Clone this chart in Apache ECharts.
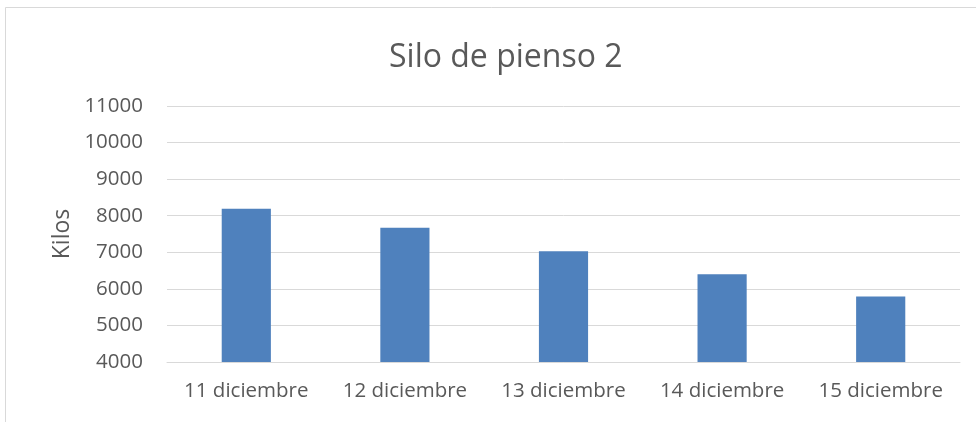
<!DOCTYPE html>
<html><head><meta charset="utf-8">
<script src="https://cdn.jsdelivr.net/npm/echarts@6/dist/echarts.min.js"></script>
<style>html,body{margin:0;padding:0;background:#fff}#c{width:976px;height:422px}</style>
</head><body><div id="c"></div>
<script>
const categories = ['11 diciembre','12 diciembre','13 diciembre','14 diciembre','15 diciembre'];
const kilos = [8190, 7670, 7030, 6400, 5790];
const yTicks = [4000, 11000, 1000];
const chart = echarts.init(document.getElementById('c'), null, {renderer:'canvas'});
const font = 'Open Sans';
chart.setOption({
  animation:false,
  backgroundColor:'#fff',
  title:{text:'Silo de pienso 2', left:384, top:37, textStyle:{fontFamily:font, fontSize:32, fontWeight:'normal', color:'#595959'}},
  graphic:[{type:'rect', shape:{x:5.5,y:7.5,width:1000,height:500}, style:{fill:'none', stroke:'#d9d9d9', lineWidth:1}, silent:true}],
  grid:{left:167, right:16, top:106, bottom:60},
  xAxis:{type:'category', data:categories,
    axisLine:{lineStyle:{color:'#d9d9d9', width:1}}, axisTick:{show:false},
    axisLabel:{interval:0, hideOverlap:false, fontFamily:font, fontSize:20.5, color:'#595959', margin:19}},
  yAxis:{type:'value', min:yTicks[0], max:yTicks[1], interval:yTicks[2],
    name:'Kilos', nameLocation:'middle', nameGap:93, nameRotate:90,
    nameTextStyle:{fontFamily:font, fontSize:23, color:'#595959'},
    axisLine:{show:false}, axisTick:{show:false},
    axisLabel:{fontFamily:font, fontSize:20.5, color:'#595959', margin:24, formatter:v=>String(v)},
    splitLine:{lineStyle:{color:'#d9d9d9', width:1}}},
  series:[{type:'bar', data:kilos, barWidth:'31%', itemStyle:{color:'#4f81bd'}}]
});
</script></body></html>
